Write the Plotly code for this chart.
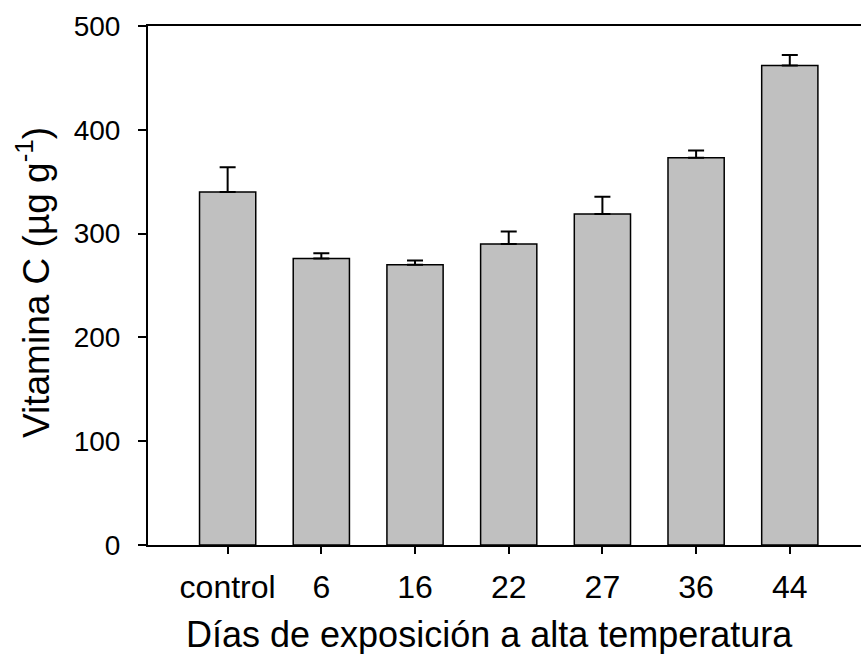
import plotly.graph_objects as go

categories = ["control", "6", "16", "22", "27", "36", "44"]
vitamin_c = [340, 276, 270, 290, 319, 373, 462]
error_up = [24, 5, 4, 12, 16.5, 7, 10]
y_ticks = [0, 100, 200, 300, 400, 500]

positions = list(range(len(categories)))
font_family = "Liberation Sans, Arial, sans-serif"

fig = go.Figure()
fig.add_trace(go.Bar(
    x=positions,
    y=vitamin_c,
    width=0.6,
    marker=dict(color="#c0c0c0", line=dict(color="black", width=1.5)),
    error_y=dict(type="data", array=error_up, arrayminus=[0] * len(error_up),
                 symmetric=False, color="black", thickness=2, width=8),
    showlegend=False,
))

fig.update_layout(
    width=861, height=654,
    margin=dict(l=148, r=0, t=26, b=109),
    plot_bgcolor="white", paper_bgcolor="white",
    font=dict(family=font_family, color="black"),
    xaxis=dict(
        range=[-0.85, 6.76],
        tickvals=positions, ticktext=categories,
        ticks="outside", ticklen=7, tickwidth=1.5, tickcolor="black",
        showline=True, linecolor="black", linewidth=2, mirror=True,
        showgrid=False, zeroline=False,
        tickfont=dict(size=32, family=font_family),
        ticklabelstandoff=6,
    ),
    yaxis=dict(
        range=[0, 500],
        tickvals=y_ticks,
        ticks="outside", ticklen=8, tickwidth=1.5, tickcolor="black",
        showline=True, linecolor="black", linewidth=2,
        showgrid=False, zeroline=False,
        tickfont=dict(size=28, family=font_family),
        ticklabelstandoff=12,
    ),
    annotations=[
        dict(text="Días de exposición a alta temperatura", xref="paper", yref="paper",
             x=(489.5 - 148) / 713, y=(545 - 634) / 519, xanchor="center", yanchor="middle",
             showarrow=False, font=dict(size=36, family=font_family)),
        dict(text="Vitamina C (µg g<sup>-1</sup>)", xref="paper", yref="paper",
             x=(33 - 148) / 713, y=(545 - 283) / 519, xanchor="center", yanchor="middle",
             textangle=-90, showarrow=False, font=dict(size=37, family=font_family)),
    ],
)

fig.write_html("out.html")
